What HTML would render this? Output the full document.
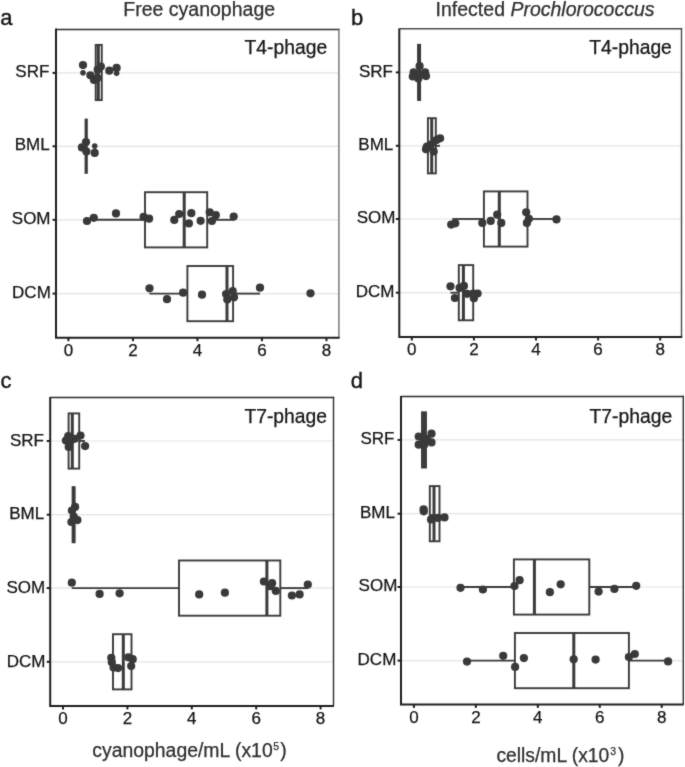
<!DOCTYPE html>
<html><head><meta charset="utf-8"><title>Cyanophage boxplots</title>
<style>html,body{margin:0;padding:0;background:#fff;}svg{display:block;}text{font-family:"Liberation Sans", sans-serif;fill:#141414;stroke:#141414;stroke-width:0.25px;}</style>
</head><body>
<svg width="685" height="767" viewBox="0 0 685 767">
<defs><filter id="soft" filterUnits="userSpaceOnUse" x="0" y="0" width="685" height="767" color-interpolation-filters="sRGB"><feConvolveMatrix order="3" kernelMatrix="1 2 1 2 20 2 1 2 1" edgeMode="duplicate"/></filter></defs>
<g filter="url(#soft)">
<rect width="685" height="767" fill="#fff"/>
<line x1="56" y1="72.9" x2="339" y2="72.9" stroke="#e4e4e4" stroke-width="1.2"/>
<line x1="56" y1="146.3" x2="339" y2="146.3" stroke="#e4e4e4" stroke-width="1.2"/>
<line x1="56" y1="219.8" x2="339" y2="219.8" stroke="#e4e4e4" stroke-width="1.2"/>
<line x1="56" y1="293.6" x2="339" y2="293.6" stroke="#e4e4e4" stroke-width="1.2"/>
<line x1="56" y1="29.55" x2="339.59999999999997" y2="29.55" stroke="#2e2e2e" stroke-width="1.4"/>
<line x1="338.9" y1="28.85" x2="338.9" y2="337.7" stroke="#6e6e6e" stroke-width="1.4"/>
<line x1="399.3" y1="72.4" x2="681.6" y2="72.4" stroke="#e4e4e4" stroke-width="1.2"/>
<line x1="399.3" y1="145.8" x2="681.6" y2="145.8" stroke="#e4e4e4" stroke-width="1.2"/>
<line x1="399.3" y1="219.0" x2="681.6" y2="219.0" stroke="#e4e4e4" stroke-width="1.2"/>
<line x1="399.3" y1="292.7" x2="681.6" y2="292.7" stroke="#e4e4e4" stroke-width="1.2"/>
<line x1="399.3" y1="28.8" x2="682.2" y2="28.8" stroke="#4a4a4a" stroke-width="1.4"/>
<line x1="681.5" y1="28.1" x2="681.5" y2="337" stroke="#4a4a4a" stroke-width="1.4"/>
<line x1="50.2" y1="441" x2="333.3" y2="441" stroke="#e4e4e4" stroke-width="1.2"/>
<line x1="50.2" y1="514.7" x2="333.3" y2="514.7" stroke="#e4e4e4" stroke-width="1.2"/>
<line x1="50.2" y1="588.1" x2="333.3" y2="588.1" stroke="#e4e4e4" stroke-width="1.2"/>
<line x1="50.2" y1="661.8" x2="333.3" y2="661.8" stroke="#e4e4e4" stroke-width="1.2"/>
<line x1="50.2" y1="397.55" x2="334.2" y2="397.55" stroke="#2a2a2a" stroke-width="1.4"/>
<line x1="333.5" y1="396.85" x2="333.5" y2="705.9" stroke="#2e2e2e" stroke-width="1.4"/>
<line x1="401" y1="439.9" x2="683.1" y2="439.9" stroke="#e4e4e4" stroke-width="1.2"/>
<line x1="401" y1="513.7" x2="683.1" y2="513.7" stroke="#e4e4e4" stroke-width="1.2"/>
<line x1="401" y1="587.0" x2="683.1" y2="587.0" stroke="#e4e4e4" stroke-width="1.2"/>
<line x1="401" y1="660.6" x2="683.1" y2="660.6" stroke="#e4e4e4" stroke-width="1.2"/>
<line x1="401" y1="396.45" x2="684.0" y2="396.45" stroke="#2a2a2a" stroke-width="1.4"/>
<line x1="683.3" y1="395.75" x2="683.3" y2="704.4" stroke="#2e2e2e" stroke-width="1.4"/>
<rect x="95.7" y="44.9" width="6.049999999999997" height="55.2" fill="#fff" stroke="#3a3a3a" stroke-width="1.9"/>
<line x1="98.3" y1="44.9" x2="98.3" y2="100.1" stroke="#3a3a3a" stroke-width="3.0"/>
<rect x="84.60000000000001" y="118.6" width="3.2" height="55.2" fill="#3a3a3a"/>
<line x1="87" y1="219.8" x2="145" y2="219.8" stroke="#3a3a3a" stroke-width="1.9"/>
<line x1="207.2" y1="219.8" x2="233.7" y2="219.8" stroke="#3a3a3a" stroke-width="1.9"/>
<rect x="145" y="192.20000000000002" width="62.19999999999999" height="55.2" fill="#fff" stroke="#3a3a3a" stroke-width="1.9"/>
<line x1="184.2" y1="192.20000000000002" x2="184.2" y2="247.4" stroke="#3a3a3a" stroke-width="3.0"/>
<line x1="149.5" y1="293.6" x2="187.4" y2="293.6" stroke="#3a3a3a" stroke-width="1.9"/>
<line x1="233.1" y1="293.6" x2="260" y2="293.6" stroke="#3a3a3a" stroke-width="1.9"/>
<rect x="187.4" y="266.0" width="45.69999999999999" height="55.2" fill="#fff" stroke="#3a3a3a" stroke-width="1.9"/>
<line x1="227" y1="266.0" x2="227" y2="321.20000000000005" stroke="#3a3a3a" stroke-width="3.0"/>
<rect x="418.1" y="44.800000000000004" width="2.0" height="55.2" fill="#fff" stroke="#3a3a3a" stroke-width="1.9"/>
<line x1="419.1" y1="44.800000000000004" x2="419.1" y2="100.0" stroke="#3a3a3a" stroke-width="3.0"/>
<line x1="435.8" y1="145.8" x2="440" y2="145.8" stroke="#3a3a3a" stroke-width="1.9"/>
<rect x="427.9" y="118.20000000000002" width="7.900000000000034" height="55.2" fill="#fff" stroke="#3a3a3a" stroke-width="1.9"/>
<line x1="431.7" y1="118.20000000000002" x2="431.7" y2="173.4" stroke="#3a3a3a" stroke-width="3.0"/>
<line x1="452.3" y1="219.0" x2="483.9" y2="219.0" stroke="#3a3a3a" stroke-width="1.9"/>
<line x1="527.5" y1="219.0" x2="556.5" y2="219.0" stroke="#3a3a3a" stroke-width="1.9"/>
<rect x="483.9" y="191.4" width="43.60000000000002" height="55.2" fill="#fff" stroke="#3a3a3a" stroke-width="1.9"/>
<line x1="499.3" y1="191.4" x2="499.3" y2="246.6" stroke="#3a3a3a" stroke-width="3.0"/>
<line x1="450.5" y1="292.7" x2="458.8" y2="292.7" stroke="#3a3a3a" stroke-width="1.9"/>
<rect x="458.8" y="265.09999999999997" width="14.399999999999977" height="55.2" fill="#fff" stroke="#3a3a3a" stroke-width="1.9"/>
<line x1="463.4" y1="265.09999999999997" x2="463.4" y2="320.3" stroke="#3a3a3a" stroke-width="3.0"/>
<line x1="79.2" y1="441" x2="85" y2="441" stroke="#3a3a3a" stroke-width="1.9"/>
<rect x="68.6" y="413.4" width="10.600000000000009" height="55.2" fill="#fff" stroke="#3a3a3a" stroke-width="1.9"/>
<line x1="72.3" y1="413.4" x2="72.3" y2="468.6" stroke="#3a3a3a" stroke-width="3.0"/>
<rect x="72.6" y="487.1" width="2.0" height="55.2" fill="#fff" stroke="#3a3a3a" stroke-width="1.9"/>
<line x1="73.6" y1="487.1" x2="73.6" y2="542.3000000000001" stroke="#3a3a3a" stroke-width="3.0"/>
<line x1="71.8" y1="588.1" x2="179" y2="588.1" stroke="#3a3a3a" stroke-width="1.9"/>
<line x1="280.3" y1="588.1" x2="307.8" y2="588.1" stroke="#3a3a3a" stroke-width="1.9"/>
<rect x="179" y="560.5" width="101.30000000000001" height="55.2" fill="#fff" stroke="#3a3a3a" stroke-width="1.9"/>
<line x1="266.9" y1="560.5" x2="266.9" y2="615.7" stroke="#3a3a3a" stroke-width="3.0"/>
<rect x="113" y="634.1999999999999" width="18.5" height="55.2" fill="#fff" stroke="#3a3a3a" stroke-width="1.9"/>
<line x1="123.3" y1="634.1999999999999" x2="123.3" y2="689.4" stroke="#3a3a3a" stroke-width="3.0"/>
<rect x="422" y="412.29999999999995" width="4" height="55.2" fill="#fff" stroke="#3a3a3a" stroke-width="1.9"/>
<line x1="424" y1="412.29999999999995" x2="424" y2="467.5" stroke="#3a3a3a" stroke-width="3.0"/>
<rect x="429.8" y="486.1" width="9.699999999999989" height="55.2" fill="#fff" stroke="#3a3a3a" stroke-width="1.9"/>
<line x1="434.0" y1="486.1" x2="434.0" y2="541.3000000000001" stroke="#3a3a3a" stroke-width="3.0"/>
<line x1="460.3" y1="587.0" x2="513.9" y2="587.0" stroke="#3a3a3a" stroke-width="1.9"/>
<line x1="589.3" y1="587.0" x2="636.2" y2="587.0" stroke="#3a3a3a" stroke-width="1.9"/>
<rect x="513.9" y="559.4" width="75.39999999999998" height="55.2" fill="#fff" stroke="#3a3a3a" stroke-width="1.9"/>
<line x1="534.4" y1="559.4" x2="534.4" y2="614.6" stroke="#3a3a3a" stroke-width="3.0"/>
<line x1="467" y1="660.6" x2="514.9" y2="660.6" stroke="#3a3a3a" stroke-width="1.9"/>
<line x1="628.9" y1="660.6" x2="668" y2="660.6" stroke="#3a3a3a" stroke-width="1.9"/>
<rect x="514.9" y="633.0" width="114.0" height="55.2" fill="#fff" stroke="#3a3a3a" stroke-width="1.9"/>
<line x1="573.8" y1="633.0" x2="573.8" y2="688.2" stroke="#3a3a3a" stroke-width="3.0"/>
<circle cx="83" cy="72.8" r="2.8" fill="#393939"/>
<circle cx="116.6" cy="73.2" r="2.8" fill="#393939"/>
<circle cx="94.7" cy="146.1" r="2.8" fill="#393939"/>
<circle cx="83" cy="65.1" r="4.1" fill="#393939"/>
<circle cx="90.4" cy="75.3" r="4.1" fill="#393939"/>
<circle cx="94" cy="80" r="4.1" fill="#393939"/>
<circle cx="97.5" cy="78" r="4.1" fill="#393939"/>
<circle cx="97.7" cy="69.7" r="4.1" fill="#393939"/>
<circle cx="100.9" cy="66.5" r="4.1" fill="#393939"/>
<circle cx="109.3" cy="70.7" r="4.1" fill="#393939"/>
<circle cx="116.6" cy="67.9" r="4.1" fill="#393939"/>
<circle cx="86" cy="142" r="4.1" fill="#393939"/>
<circle cx="81.9" cy="147.4" r="4.1" fill="#393939"/>
<circle cx="86.4" cy="151.6" r="4.1" fill="#393939"/>
<circle cx="94.7" cy="152.9" r="4.1" fill="#393939"/>
<circle cx="87" cy="221" r="4.1" fill="#393939"/>
<circle cx="93.8" cy="217.8" r="4.1" fill="#393939"/>
<circle cx="116" cy="213.4" r="4.1" fill="#393939"/>
<circle cx="143.6" cy="216.9" r="4.1" fill="#393939"/>
<circle cx="149.1" cy="218.7" r="4.1" fill="#393939"/>
<circle cx="174.3" cy="219.9" r="4.1" fill="#393939"/>
<circle cx="179.2" cy="214" r="4.1" fill="#393939"/>
<circle cx="191.3" cy="213.2" r="4.1" fill="#393939"/>
<circle cx="188.9" cy="223.4" r="4.1" fill="#393939"/>
<circle cx="200.6" cy="220.8" r="4.1" fill="#393939"/>
<circle cx="209.7" cy="212.3" r="4.1" fill="#393939"/>
<circle cx="215.8" cy="215.2" r="4.1" fill="#393939"/>
<circle cx="211.9" cy="221" r="4.1" fill="#393939"/>
<circle cx="233.7" cy="216.6" r="4.1" fill="#393939"/>
<circle cx="149.5" cy="288.3" r="4.1" fill="#393939"/>
<circle cx="167" cy="299.2" r="4.1" fill="#393939"/>
<circle cx="183.1" cy="292.7" r="4.1" fill="#393939"/>
<circle cx="202" cy="294.7" r="4.1" fill="#393939"/>
<circle cx="226.1" cy="294.1" r="4.1" fill="#393939"/>
<circle cx="227.3" cy="299.6" r="4.1" fill="#393939"/>
<circle cx="232.7" cy="291" r="4.1" fill="#393939"/>
<circle cx="234" cy="297.3" r="4.1" fill="#393939"/>
<circle cx="260" cy="287.7" r="4.1" fill="#393939"/>
<circle cx="310.5" cy="293.3" r="4.1" fill="#393939"/>
<circle cx="419.6" cy="66" r="4.1" fill="#393939"/>
<circle cx="413.7" cy="72.4" r="4.1" fill="#393939"/>
<circle cx="412.8" cy="76.5" r="4.1" fill="#393939"/>
<circle cx="418.3" cy="78.4" r="4.1" fill="#393939"/>
<circle cx="425.1" cy="72.4" r="4.1" fill="#393939"/>
<circle cx="426" cy="76.1" r="4.1" fill="#393939"/>
<circle cx="420" cy="75" r="4.1" fill="#393939"/>
<circle cx="426.9" cy="146.5" r="4.1" fill="#393939"/>
<circle cx="426" cy="149.2" r="4.1" fill="#393939"/>
<circle cx="431" cy="144.7" r="4.1" fill="#393939"/>
<circle cx="433.7" cy="151.5" r="4.1" fill="#393939"/>
<circle cx="436.5" cy="140.1" r="4.1" fill="#393939"/>
<circle cx="440.1" cy="138.3" r="4.1" fill="#393939"/>
<circle cx="451.2" cy="224.6" r="4.1" fill="#393939"/>
<circle cx="455.3" cy="223.3" r="4.1" fill="#393939"/>
<circle cx="482.3" cy="222.9" r="4.1" fill="#393939"/>
<circle cx="490.7" cy="220.9" r="4.1" fill="#393939"/>
<circle cx="497.2" cy="214.7" r="4.1" fill="#393939"/>
<circle cx="501.3" cy="222.9" r="4.1" fill="#393939"/>
<circle cx="526.2" cy="212.3" r="4.1" fill="#393939"/>
<circle cx="528.9" cy="218.8" r="4.1" fill="#393939"/>
<circle cx="526.9" cy="222.9" r="4.1" fill="#393939"/>
<circle cx="556.5" cy="219.4" r="4.1" fill="#393939"/>
<circle cx="450.5" cy="286.3" r="4.1" fill="#393939"/>
<circle cx="454.9" cy="298" r="4.1" fill="#393939"/>
<circle cx="459.6" cy="287.9" r="4.1" fill="#393939"/>
<circle cx="463.9" cy="285.9" r="4.1" fill="#393939"/>
<circle cx="467.1" cy="293.8" r="4.1" fill="#393939"/>
<circle cx="473.3" cy="293.5" r="4.1" fill="#393939"/>
<circle cx="473.9" cy="298.2" r="4.1" fill="#393939"/>
<circle cx="477.6" cy="293.5" r="4.1" fill="#393939"/>
<circle cx="65.9" cy="440.6" r="4.1" fill="#393939"/>
<circle cx="68.2" cy="436" r="4.1" fill="#393939"/>
<circle cx="68.7" cy="447" r="4.1" fill="#393939"/>
<circle cx="74.6" cy="438.8" r="4.1" fill="#393939"/>
<circle cx="80.5" cy="435.6" r="4.1" fill="#393939"/>
<circle cx="85.1" cy="446.1" r="4.1" fill="#393939"/>
<circle cx="69.6" cy="442.4" r="4.1" fill="#393939"/>
<circle cx="75.1" cy="506.9" r="4.1" fill="#393939"/>
<circle cx="71.9" cy="510.6" r="4.1" fill="#393939"/>
<circle cx="73.7" cy="516.5" r="4.1" fill="#393939"/>
<circle cx="77.4" cy="520.1" r="4.1" fill="#393939"/>
<circle cx="71.4" cy="522" r="4.1" fill="#393939"/>
<circle cx="71.8" cy="582.7" r="4.1" fill="#393939"/>
<circle cx="99.6" cy="593.9" r="4.1" fill="#393939"/>
<circle cx="119.6" cy="593.3" r="4.1" fill="#393939"/>
<circle cx="199.2" cy="594.4" r="4.1" fill="#393939"/>
<circle cx="224.9" cy="592.7" r="4.1" fill="#393939"/>
<circle cx="263.9" cy="581.5" r="4.1" fill="#393939"/>
<circle cx="272.1" cy="583.2" r="4.1" fill="#393939"/>
<circle cx="270.4" cy="586.2" r="4.1" fill="#393939"/>
<circle cx="275.8" cy="590.9" r="4.1" fill="#393939"/>
<circle cx="291.9" cy="595.5" r="4.1" fill="#393939"/>
<circle cx="299.6" cy="594.4" r="4.1" fill="#393939"/>
<circle cx="307.8" cy="584.6" r="4.1" fill="#393939"/>
<circle cx="111.3" cy="657.8" r="4.1" fill="#393939"/>
<circle cx="111.8" cy="662.2" r="4.1" fill="#393939"/>
<circle cx="113.6" cy="667.6" r="4.1" fill="#393939"/>
<circle cx="118" cy="668.1" r="4.1" fill="#393939"/>
<circle cx="128.3" cy="657.3" r="4.1" fill="#393939"/>
<circle cx="132.7" cy="659.2" r="4.1" fill="#393939"/>
<circle cx="131.2" cy="666.1" r="4.1" fill="#393939"/>
<circle cx="418.7" cy="436.5" r="4.1" fill="#393939"/>
<circle cx="418.7" cy="444.7" r="4.1" fill="#393939"/>
<circle cx="422.8" cy="437.8" r="4.1" fill="#393939"/>
<circle cx="424.2" cy="444.7" r="4.1" fill="#393939"/>
<circle cx="431.5" cy="433.7" r="4.1" fill="#393939"/>
<circle cx="431.5" cy="442.4" r="4.1" fill="#393939"/>
<circle cx="427" cy="439" r="4.1" fill="#393939"/>
<circle cx="423.6" cy="509.3" r="4.1" fill="#393939"/>
<circle cx="423.8" cy="511.3" r="4.1" fill="#393939"/>
<circle cx="431" cy="519.5" r="4.1" fill="#393939"/>
<circle cx="432.5" cy="518" r="4.1" fill="#393939"/>
<circle cx="437.8" cy="517.9" r="4.1" fill="#393939"/>
<circle cx="444.5" cy="517.4" r="4.1" fill="#393939"/>
<circle cx="460.5" cy="587.8" r="4.1" fill="#393939"/>
<circle cx="482.9" cy="589.5" r="4.1" fill="#393939"/>
<circle cx="514.5" cy="586" r="4.1" fill="#393939"/>
<circle cx="519.6" cy="580.2" r="4.1" fill="#393939"/>
<circle cx="549.9" cy="592.2" r="4.1" fill="#393939"/>
<circle cx="560.7" cy="584.3" r="4.1" fill="#393939"/>
<circle cx="598.6" cy="591.6" r="4.1" fill="#393939"/>
<circle cx="614.4" cy="588.9" r="4.1" fill="#393939"/>
<circle cx="636.2" cy="585.8" r="4.1" fill="#393939"/>
<circle cx="467" cy="661.6" r="4.1" fill="#393939"/>
<circle cx="503.2" cy="655.8" r="4.1" fill="#393939"/>
<circle cx="515.1" cy="666.9" r="4.1" fill="#393939"/>
<circle cx="523.9" cy="658.1" r="4.1" fill="#393939"/>
<circle cx="573.7" cy="659.3" r="4.1" fill="#393939"/>
<circle cx="595.6" cy="659.6" r="4.1" fill="#393939"/>
<circle cx="628.9" cy="657" r="4.1" fill="#393939"/>
<circle cx="634.8" cy="654" r="4.1" fill="#393939"/>
<circle cx="668.1" cy="661.4" r="4.1" fill="#393939"/>
<path d="M56 28.4V337.7H339.6" fill="none" stroke="#1e1e1e" stroke-width="2"/>
<line x1="52.5" y1="72.9" x2="56" y2="72.9" stroke="#1e1e1e" stroke-width="2"/>
<text x="15.3" y="77.0" font-size="17">SRF</text>
<line x1="52.5" y1="146.3" x2="56" y2="146.3" stroke="#1e1e1e" stroke-width="2"/>
<text x="14.7" y="150.4" font-size="17">BML</text>
<line x1="52.5" y1="219.8" x2="56" y2="219.8" stroke="#1e1e1e" stroke-width="2"/>
<text x="11.8" y="223.9" font-size="17">SOM</text>
<line x1="52.5" y1="293.6" x2="56" y2="293.6" stroke="#1e1e1e" stroke-width="2"/>
<text x="12.1" y="297.7" font-size="17">DCM</text>
<line x1="68.4" y1="337.7" x2="68.4" y2="341.2" stroke="#1e1e1e" stroke-width="2"/>
<text x="68.4" y="356.1" text-anchor="middle" font-size="17">0</text>
<line x1="132.92000000000002" y1="337.7" x2="132.92000000000002" y2="341.2" stroke="#1e1e1e" stroke-width="2"/>
<text x="132.92000000000002" y="356.1" text-anchor="middle" font-size="17">2</text>
<line x1="197.44" y1="337.7" x2="197.44" y2="341.2" stroke="#1e1e1e" stroke-width="2"/>
<text x="197.44" y="356.1" text-anchor="middle" font-size="17">4</text>
<line x1="261.96000000000004" y1="337.7" x2="261.96000000000004" y2="341.2" stroke="#1e1e1e" stroke-width="2"/>
<text x="261.96000000000004" y="356.1" text-anchor="middle" font-size="17">6</text>
<line x1="326.48" y1="337.7" x2="326.48" y2="341.2" stroke="#1e1e1e" stroke-width="2"/>
<text x="326.48" y="356.1" text-anchor="middle" font-size="17">8</text>
<path d="M399.3 28.4V337H682.2" fill="none" stroke="#1e1e1e" stroke-width="2"/>
<line x1="395.8" y1="72.4" x2="399.3" y2="72.4" stroke="#1e1e1e" stroke-width="2"/>
<text x="358.9" y="76.5" font-size="17">SRF</text>
<line x1="395.8" y1="145.8" x2="399.3" y2="145.8" stroke="#1e1e1e" stroke-width="2"/>
<text x="358.3" y="149.9" font-size="17">BML</text>
<line x1="395.8" y1="219.0" x2="399.3" y2="219.0" stroke="#1e1e1e" stroke-width="2"/>
<text x="356.7" y="223.1" font-size="17">SOM</text>
<line x1="395.8" y1="292.7" x2="399.3" y2="292.7" stroke="#1e1e1e" stroke-width="2"/>
<text x="355.7" y="296.8" font-size="17">DCM</text>
<line x1="411.8" y1="337" x2="411.8" y2="340.5" stroke="#1e1e1e" stroke-width="2"/>
<text x="411.8" y="355.4" text-anchor="middle" font-size="17">0</text>
<line x1="473.90000000000003" y1="337" x2="473.90000000000003" y2="340.5" stroke="#1e1e1e" stroke-width="2"/>
<text x="473.90000000000003" y="355.4" text-anchor="middle" font-size="17">2</text>
<line x1="536.0" y1="337" x2="536.0" y2="340.5" stroke="#1e1e1e" stroke-width="2"/>
<text x="536.0" y="355.4" text-anchor="middle" font-size="17">4</text>
<line x1="598.1" y1="337" x2="598.1" y2="340.5" stroke="#1e1e1e" stroke-width="2"/>
<text x="598.1" y="355.4" text-anchor="middle" font-size="17">6</text>
<line x1="660.2" y1="337" x2="660.2" y2="340.5" stroke="#1e1e1e" stroke-width="2"/>
<text x="660.2" y="355.4" text-anchor="middle" font-size="17">8</text>
<path d="M50.2 397.0V705.9H333.90000000000003" fill="none" stroke="#1e1e1e" stroke-width="2"/>
<line x1="46.7" y1="441" x2="50.2" y2="441" stroke="#1e1e1e" stroke-width="2"/>
<text x="10.0" y="445.7" font-size="17">SRF</text>
<line x1="46.7" y1="514.7" x2="50.2" y2="514.7" stroke="#1e1e1e" stroke-width="2"/>
<text x="9.2" y="519.4" font-size="17">BML</text>
<line x1="46.7" y1="588.1" x2="50.2" y2="588.1" stroke="#1e1e1e" stroke-width="2"/>
<text x="6.4" y="592.8" font-size="17">SOM</text>
<line x1="46.7" y1="661.8" x2="50.2" y2="661.8" stroke="#1e1e1e" stroke-width="2"/>
<text x="6.7" y="666.5" font-size="17">DCM</text>
<line x1="63.0" y1="705.9" x2="63.0" y2="709.4" stroke="#1e1e1e" stroke-width="2"/>
<text x="63.0" y="724.3" text-anchor="middle" font-size="17">0</text>
<line x1="127.4" y1="705.9" x2="127.4" y2="709.4" stroke="#1e1e1e" stroke-width="2"/>
<text x="127.4" y="724.3" text-anchor="middle" font-size="17">2</text>
<line x1="191.8" y1="705.9" x2="191.8" y2="709.4" stroke="#1e1e1e" stroke-width="2"/>
<text x="191.8" y="724.3" text-anchor="middle" font-size="17">4</text>
<line x1="256.20000000000005" y1="705.9" x2="256.20000000000005" y2="709.4" stroke="#1e1e1e" stroke-width="2"/>
<text x="256.20000000000005" y="724.3" text-anchor="middle" font-size="17">6</text>
<line x1="320.6" y1="705.9" x2="320.6" y2="709.4" stroke="#1e1e1e" stroke-width="2"/>
<text x="320.6" y="724.3" text-anchor="middle" font-size="17">8</text>
<path d="M401 395.9V704.4H683.7" fill="none" stroke="#1e1e1e" stroke-width="2"/>
<line x1="397.5" y1="439.9" x2="401" y2="439.9" stroke="#1e1e1e" stroke-width="2"/>
<text x="360.4" y="444.0" font-size="17">SRF</text>
<line x1="397.5" y1="513.7" x2="401" y2="513.7" stroke="#1e1e1e" stroke-width="2"/>
<text x="360.0" y="517.8" font-size="17">BML</text>
<line x1="397.5" y1="587.0" x2="401" y2="587.0" stroke="#1e1e1e" stroke-width="2"/>
<text x="358.6" y="591.1" font-size="17">SOM</text>
<line x1="397.5" y1="660.6" x2="401" y2="660.6" stroke="#1e1e1e" stroke-width="2"/>
<text x="357.6" y="664.7" font-size="17">DCM</text>
<line x1="413.9" y1="704.4" x2="413.9" y2="707.9" stroke="#1e1e1e" stroke-width="2"/>
<text x="413.9" y="722.8" text-anchor="middle" font-size="17">0</text>
<line x1="475.85999999999996" y1="704.4" x2="475.85999999999996" y2="707.9" stroke="#1e1e1e" stroke-width="2"/>
<text x="475.85999999999996" y="722.8" text-anchor="middle" font-size="17">2</text>
<line x1="537.8199999999999" y1="704.4" x2="537.8199999999999" y2="707.9" stroke="#1e1e1e" stroke-width="2"/>
<text x="537.8199999999999" y="722.8" text-anchor="middle" font-size="17">4</text>
<line x1="599.78" y1="704.4" x2="599.78" y2="707.9" stroke="#1e1e1e" stroke-width="2"/>
<text x="599.78" y="722.8" text-anchor="middle" font-size="17">6</text>
<line x1="661.74" y1="704.4" x2="661.74" y2="707.9" stroke="#1e1e1e" stroke-width="2"/>
<text x="661.74" y="722.8" text-anchor="middle" font-size="17">8</text>
<text x="244.6" y="53.6" font-size="19.3">T4-phage</text>
<text x="589.3" y="53.6" font-size="19.3">T4-phage</text>
<text x="244.4" y="423.3" font-size="19.3">T7-phage</text>
<text x="589.6" y="423.3" font-size="19.3">T7-phage</text>
<text x="123.3" y="15.6" font-size="19.5" style="fill:#2e2e2e;stroke:#2e2e2e">Free cyanophage</text>
<text x="435.6" y="15.6" font-size="19.5" style="fill:#2e2e2e;stroke:#2e2e2e">Infected <tspan font-style="italic">Prochlorococcus</tspan></text>
<text x="0.3" y="25.1" font-size="22" style="stroke-width:0.35px">a</text>
<text x="351.0" y="25.3" font-size="22" style="stroke-width:0.35px">b</text>
<text x="0.6" y="388.2" font-size="22" style="stroke-width:0.35px">c</text>
<text x="350.8" y="388.2" font-size="22" style="stroke-width:0.35px">d</text>
<text x="92.3" y="756.6" font-size="19.4" style="fill:#2e2e2e;stroke:#2e2e2e">cyanophage/mL (x10<tspan font-size="10.5" dy="-6.4" dx="0.6">5</tspan><tspan dy="6.4" dx="1.0">)</tspan></text>
<text x="496.4" y="761.8" font-size="19.3" style="fill:#2e2e2e;stroke:#2e2e2e">cells/mL (x10<tspan font-size="10.5" dy="-6.4" dx="0.9">3</tspan><tspan dy="6.4" dx="1.9">)</tspan></text>
</g>
</svg>
</body></html>
